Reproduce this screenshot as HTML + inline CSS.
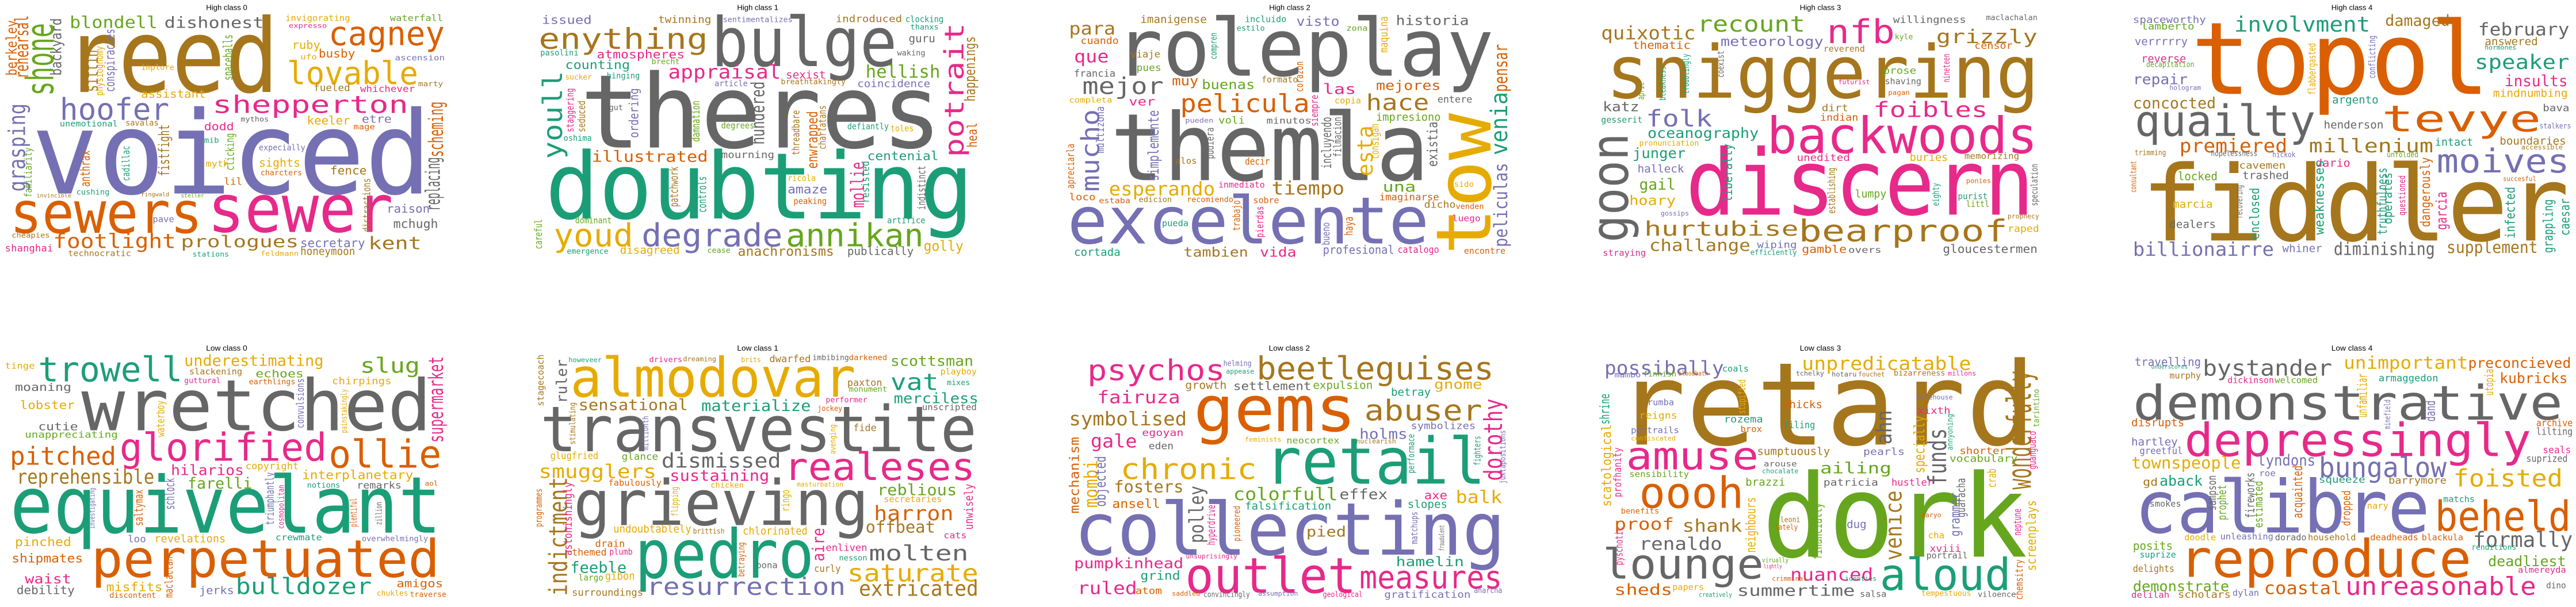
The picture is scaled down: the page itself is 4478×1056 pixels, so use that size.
<!DOCTYPE html>
<html><head><meta charset="utf-8">
<style>
html,body{margin:0;padding:0;background:#fff;}
#root{position:relative;width:4478px;height:1056px;overflow:hidden;background:#fff;}
svg.panel{position:absolute;overflow:hidden;}
svg text{font-family:"DejaVu Sans Mono","Liberation Mono",monospace;}
svg text.title{font-family:"Liberation Sans",sans-serif;fill:#000;}
</style></head>
<body>
<div id="root"></div>
<script>
const palette={t:"#1b9e77",o:"#d95f02",p:"#7570b3",k:"#e7298a",g:"#66a61e",y:"#e6ab02",b:"#a6761d",a:"#666666"};
const panelTitles=["High class 0","High class 1","High class 2","High class 3","High class 4","Low class 0","Low class 1","Low class 2","Low class 3","Low class 4"];
const panelOriginX=[0,896,1792,2688,3578,0,896,1792,2688,3578];
const titleCenterX=[683,730,780,826,885,683,730,779,826,885];
// word: [text, x, baseline y, length, size, color, vertical]
const wordsH0=[["reed",195,480,645,533,"b"],["voiced",95,1010,1205,600,"p"],["sewers",30,1215,580,300,"o"],["sewer",625,1210,560,345,"k"],["shone",160,500,380,115,"g",1],["cagney",990,235,350,173,"o"],["lovable",865,440,395,165,"y"],["shepperton",640,590,590,125,"k"],["hoofer",180,625,330,158,"p"],["blondell",210,145,265,86,"g"],["dishonest",495,145,300,80,"a"],["footlight",160,1295,370,105,"o"],["prologues",545,1290,355,85,"b"],["kent",1110,1300,160,92,"b"],["secretary",905,1290,195,65,"p"],["honeymoon",905,1330,165,55,"b"],["mchugh",1185,1190,135,65,"a"],["raison",1165,1110,130,60,"p"],["grasping",75,1000,460,70,"p",1],["replacing",1325,1100,280,60,"a",1],["scheming",1335,820,290,60,"o",1],["rehearsal",85,410,330,55,"o",1],["berkeley",50,395,290,45,"o",1],["backyard",185,395,300,45,"a",1],["sittin",295,480,220,55,"b",1],["physiognomy",310,500,260,30,"y",1],["conspiracies",345,480,330,40,"p",1],["spaceballs",700,420,240,38,"g",1],["assistant",425,510,195,58,"y"],["implore",425,365,100,40,"y"],["ruby",880,255,85,60,"y"],["busby",960,300,110,60,"o"],["ufo",905,310,50,40,"y"],["fueled",945,475,110,50,"b"],["whichever",1085,480,165,48,"k"],["keeler",925,650,130,60,"y"],["etre",1090,640,90,55,"p"],["mage",1065,675,65,40,"o"],["dodd",615,680,90,55,"k"],["unemotional",180,660,175,42,"t"],["savalas",378,655,100,42,"b"],["sights",780,870,125,60,"y"],["charcters",785,915,125,40,"o"],["fence",995,910,110,60,"b"],["lil",675,965,55,50,"o"],["expecially",780,785,140,42,"p"],["fistfight",510,920,270,45,"b",1],["clicking",705,890,195,35,"g",1],["anthrax",270,975,190,40,"o",1],["cadillac",390,945,185,30,"t",1],["familiarity",95,1030,260,30,"g",1],["distractions",1115,1210,280,30,"b",1],["invigorating",860,110,195,45,"y"],["waterfall",1175,110,160,45,"g"],["expresso",870,145,115,35,"k"],["ascension",1190,315,150,40,"p"],["marty",1260,450,75,38,"b"],["shanghai",15,1312,145,50,"k"],["technocratic",205,1337,190,42,"b"],["stations",580,1340,110,38,"t"],["feldmann",785,1335,115,35,"y"],["cheapies",35,1240,115,38,"b"],["pave",460,1160,65,45,"p"],["cushing",230,1015,100,40,"t"],["invincible",110,1030,105,30,"b"],["myth",620,870,70,45,"y"],["mib",615,745,45,40,"t"],["mythos",725,635,85,38,"a"],["ringwald",425,1025,85,30,"b"],["steller",545,1030,70,30,"g"]];
const wordsH1=[["theres",195,770,1090,533,"a"],["doubting",90,1140,1290,480,"t"],["bulge",590,345,560,355,"a"],["enything",70,255,510,150,"b"],["youd",115,1285,240,165,"y"],["degrade",380,1285,425,165,"p"],["annikan",815,1285,415,165,"g"],["potrait",1350,820,700,80,"k",1],["youll",140,830,460,80,"t",1],["happenings",1385,530,340,45,"b",1],["heal",1390,770,130,40,"o",1],["appraisal",460,410,340,100,"k"],["hellish",1055,405,225,90,"g"],["atmospheres",245,305,265,60,"k"],["counting",150,360,195,65,"t"],["illustrated",230,845,350,80,"o"],["centenial",1060,835,215,65,"t"],["mourning",620,825,160,50,"a"],["coincidence",1030,455,220,52,"p"],["breathtakingly",800,440,195,40,"b"],["sexist",815,410,120,55,"k"],["issued",80,125,150,60,"p"],["twinning",430,120,160,52,"b"],["sentimentalizes",625,115,210,40,"p"],["indroduced",965,115,200,50,"b"],["clocking",1175,115,115,45,"t"],["guru",1185,220,80,55,"a"],["thanxs",1190,155,85,40,"t"],["waking",1150,290,85,40,"a"],["pasolini",75,290,115,42,"t"],["brecht",410,335,85,40,"g"],["hinging",275,410,100,42,"t"],["sucker",150,415,80,40,"y"],["article",600,450,100,42,"p"],["hundered",750,755,330,55,"a",1],["ordering",370,720,260,38,"p",1],["staggering",175,690,230,30,"k",1],["seduced",210,690,165,30,"b",1],["damnation",555,740,215,32,"g",1],["enwrapped",910,880,300,45,"o",1],["threadbare",855,810,235,30,"b",1],["charlatans",935,780,230,30,"b",1],["mollie",1050,1085,240,55,"k",1],["resisted",1065,1060,220,30,"t",1],["indistinct",1235,1095,230,32,"a",1],["patchwork",490,1080,210,35,"b",1],["controls",575,1110,190,35,"t",1],["degrees",620,670,100,45,"g"],["defiantly",1000,675,125,45,"t"],["toles",1130,685,70,45,"y"],["oshima",145,735,85,42,"t"],["ricola",820,945,85,45,"y"],["amaze",820,1010,120,65,"p"],["peaking",838,1065,100,45,"o"],["dominant",180,1165,110,45,"g"],["artifice",1120,1165,115,45,"t"],["anachronisms",670,1335,290,68,"b"],["publically",1000,1330,200,58,"a"],["golly",1230,1310,120,75,"y"],["disagreed",315,1325,180,55,"y"],["emergence",155,1325,125,40,"t"],["cease",578,1320,70,40,"g"],["careful",80,1300,155,30,"g",1],["gut",282,575,42,40,"a"]];
const wordsH2=[["roleplay",255,395,1140,415,"a"],["themla",240,940,960,487,"a"],["excelente",110,1270,1090,340,"p"],["tow",1385,1330,740,230,"y",1],["pelicula",450,585,390,130,"o"],["mejor",155,490,245,120,"a"],["hace",1010,575,190,115,"b"],["mucho",205,1000,430,75,"p",1],["venia",1435,810,330,70,"t",1],["pensar",1435,480,250,55,"o",1],["peliculas",1435,1290,440,55,"p",1],["esta",1030,920,265,65,"y",1],["existia",1225,870,235,42,"a",1],["para",115,180,140,90,"b"],["que",130,325,105,90,"k"],["visto",800,135,130,70,"p"],["historia",1100,130,220,70,"a"],["las",880,490,100,75,"k"],["mejores",1040,470,195,70,"o"],["muy",425,445,80,70,"o"],["buenas",515,465,160,70,"g"],["esperando",235,1020,320,100,"y"],["tiempo",725,1015,220,95,"b"],["una",1060,1000,100,75,"g"],["imaginarse",1050,1045,180,50,"o"],["dicho",1185,1085,95,50,"b"],["venden",1280,1090,85,40,"o"],["cortada",130,1335,140,55,"t"],["tambien",460,1340,195,70,"b"],["vida",690,1340,110,70,"k"],["profesional",880,1325,215,60,"p"],["catalogo",1105,1320,125,50,"k"],["encontre",1305,1325,125,45,"o"],["impresiono",1040,630,195,55,"g"],["entere",1225,535,105,50,"a"],["copia",915,540,80,45,"y"],["francia",130,400,125,50,"a"],["cuando",150,230,115,50,"o"],["viaje",300,300,90,50,"b"],["pues",318,370,75,50,"g"],["completa",115,535,130,40,"y"],["ver",295,550,80,60,"k"],["minutos",710,645,135,45,"a"],["voli",565,645,80,50,"g"],["pueden",465,640,85,35,"p"],["decir",645,860,75,50,"o"],["alos",435,855,65,45,"b"],["imanigense",330,120,200,55,"b"],["incluido",645,115,125,45,"t"],["estilo",620,160,85,40,"t"],["zona",950,160,65,40,"g"],["formato",695,430,110,45,"b"],["inmediato",565,980,140,45,"k"],["sobre",670,1060,78,45,"o"],["recomiendo",470,1055,140,40,"o"],["estaba",205,1060,95,40,"o"],["edicion",325,1055,100,40,"b"],["loco",115,1045,80,50,"o"],["pueda",395,1180,80,45,"t"],["luego",1270,1155,85,45,"k"],["sido",1275,975,60,40,"y"],["simplemente",385,945,370,45,"p",1],["incluyendo",905,880,270,40,"a",1],["filmacion",935,820,210,32,"a",1],["corazon",820,480,160,30,"o",1],["maquina",1075,275,190,32,"y",1],["trabajo",630,1205,160,30,"o",1],["pierdas",700,1240,165,30,"k",1],["bueno",900,1280,120,30,"p",1],["haya",970,1230,100,35,"o",1],["multizona",220,800,245,32,"p",1],["apreciarla",130,985,235,30,"o",1],["consigan",1048,830,185,32,"y",1],["pudiera",550,830,165,30,"a",1],["siempre",865,660,165,30,"k",1],["compren",560,310,140,28,"t",1]];
const wordsH3=[["sniggering",180,510,1305,380,"b"],["discern",420,1120,1050,475,"k"],["backwoods",665,800,815,263,"k"],["goon",245,1265,570,155,"a",1],["bearproof",760,1260,630,158,"b"],["hurtubise",295,1230,465,105,"b"],["challange",310,1310,305,85,"b"],["folk",300,660,200,120,"p"],["foibles",985,610,345,110,"k"],["nfb",845,225,205,171,"k"],["recount",455,165,325,115,"g"],["quixotic",165,205,285,95,"b"],["grizzly",1175,225,305,100,"b"],["meteorology",525,240,310,70,"p"],["thematic",260,255,175,55,"o"],["oceanography",305,720,335,75,"t"],["junger",260,825,160,75,"t"],["halleck",275,900,140,55,"p"],["gail",280,990,110,80,"g"],["hoary",250,1070,140,70,"y"],["katz",170,580,110,70,"a"],["unedited",755,840,160,50,"k"],["buries",1095,840,115,55,"y"],["memorizing",1260,830,165,45,"b"],["gloucestermen",1195,1320,285,60,"a"],["overs",910,1320,100,45,"a"],["gamble",770,1320,135,55,"o"],["wiping",635,1295,120,50,"p"],["efficiently",615,1330,140,40,"t"],["straying",170,1335,130,45,"k"],["willingness",1045,120,220,50,"a"],["maclachalan",1325,105,155,40,"a"],["censor",1290,255,115,50,"o"],["reverend",835,270,125,45,"b"],["kyle",1050,205,55,40,"g"],["prose",1015,385,100,50,"g"],["shaving",1020,440,110,45,"a"],["futurist",880,440,95,35,"k"],["pagan",1030,495,65,35,"o"],["indian",825,630,115,50,"o"],["dirt",830,580,80,50,"b"],["lumpy",930,1030,95,55,"g"],["purist",1240,1040,90,45,"t"],["littl",1265,1080,70,45,"g"],["prophecy",1390,1140,95,35,"b"],["raped",1390,1210,95,50,"y"],["ponies",1265,955,75,35,"o"],["gesserit",165,640,125,45,"t"],["pronunciation",280,760,180,40,"y"],["gossips",345,1125,85,35,"p"],["liberally",560,1055,305,40,"t",1],["establishing",870,1115,240,30,"b",1],["bleakness",360,525,180,28,"t",1],["troublingly",430,490,210,28,"t",1],["coexist",535,405,140,28,"a",1],["speculation",1480,1075,220,28,"a",1],["nineteen",1215,430,150,28,"k",1],["april",295,520,90,28,"g",1],["eighty",1183,1075,120,28,"t",1]];
const wordsH4=[["topol",400,490,900,525,"o"],["fiddler",250,1255,1290,545,"b"],["quailty",230,710,545,225,"a"],["tevye",975,685,480,190,"o"],["moives",1140,900,400,170,"p"],["billionairre",225,1335,425,100,"p"],["diminishing",830,1330,305,90,"a"],["supplement",1170,1320,275,85,"b"],["millenium",755,795,375,100,"b"],["premiered",365,795,325,100,"o"],["involvment",530,165,410,110,"t"],["speaker",1255,360,285,105,"t"],["february",1265,185,275,90,"a"],["damaged",985,135,195,80,"b"],["concocted",225,565,250,80,"b"],["repair",225,440,165,75,"p"],["insults",1345,450,190,80,"k"],["mindnumbing",1310,505,225,55,"y"],["boundaries",1330,755,200,55,"b"],["accessible",1395,780,125,35,"b"],["intact",1135,760,115,55,"t"],["henderson",800,670,180,55,"a"],["argento",825,540,140,55,"t"],["cavemen",545,880,140,50,"b"],["trashed",555,935,140,55,"a"],["locked",360,940,120,60,"g"],["dario",775,870,105,55,"k"],["dealers",335,1190,140,55,"a"],["marcia",345,1085,120,55,"y"],["whiner",675,1315,120,55,"p"],["spaceworthy",225,120,220,50,"p"],["lamberto",250,155,160,50,"g"],["verrrrry",230,235,160,55,"p"],["reverse",250,325,135,55,"k"],["decapitation",265,350,145,40,"g"],["hologram",335,470,95,35,"p"],["answered",1285,235,160,55,"b"],["hormones",1285,260,95,35,"t"],["bava",1460,580,80,50,"a"],["stalkers",1450,670,95,40,"p"],["hopelessness",460,815,140,40,"a"],["hickok",645,820,70,40,"p"],["trimming",230,810,95,40,"b"],["unfolded",990,820,95,40,"g"],["succesful",1340,945,100,35,"o"],["weaknesses",800,1225,390,40,"t",1],["truthfulness",990,1225,350,40,"t",1],["dangerously",1120,1185,365,40,"o",1],["garcia",1170,1200,200,45,"k",1],["infected",1375,1245,270,40,"t",1],["grappling",1490,1320,280,40,"t",1],["caesar",1540,1230,195,40,"t",1],["enclosed",605,1250,270,38,"t",1],["operates",1005,1170,270,38,"t",1],["flabbergasted",775,495,270,30,"y",1],["conflicting",955,410,225,28,"p",1],["questioned",1045,1125,210,28,"k",1],["recovering",555,1140,175,28,"a",1],["consultant",235,1005,165,24,"o",1]];
const wordsL0=[["wretched",245,625,1055,370,"a"],["equivelant",30,1160,1300,410,"t"],["perpetuated",275,1390,1050,270,"o"],["glorified",360,785,625,200,"k"],["ollie",990,820,340,200,"o"],["trowell",115,370,435,178,"t"],["pitched",30,805,320,131,"o"],["reprehensible",50,905,415,105,"b"],["bulldozer",710,1480,410,118,"t"],["slug",1085,325,180,110,"g"],["underestimating",555,290,420,80,"y"],["hilarios",515,860,220,75,"k"],["farelli",565,930,195,80,"g"],["interplanetary",910,880,335,65,"y"],["supermarket",1335,690,450,60,"k",1],["pinched",45,1230,170,65,"y"],["shipmates",35,1315,215,65,"o"],["waist",75,1425,140,70,"k"],["debility",50,1480,175,60,"a"],["misfits",320,1465,170,65,"y"],["discontent",330,1500,140,40,"o"],["amigos",1195,1445,140,55,"o"],["chukles",1135,1490,95,40,"y"],["traverse",1235,1495,110,40,"o"],["jerks",600,1480,105,55,"p"],["revelations",465,1210,215,55,"y"],["loo",385,1210,55,50,"p"],["crewmate",830,1200,140,45,"t"],["overwhelmingly",1090,1205,200,40,"p"],["remarks",1075,930,135,50,"a"],["notions",925,925,100,40,"t"],["moaning",45,420,170,55,"a"],["lobster",60,515,165,60,"y"],["cutie",115,625,120,55,"a"],["unappreciating",75,665,280,48,"g"],["echoes",770,350,145,55,"g"],["slackening",570,335,160,45,"b"],["chirpings",1000,385,180,50,"y"],["guttural",555,380,110,40,"k"],["earthlings",750,385,140,40,"o"],["tinge",15,305,90,45,"y"],["copyright",740,830,160,50,"y"],["aol",1280,915,40,35,"o"],["schlock",525,1040,165,40,"p",1],["saltymax",430,1125,190,35,"o",1],["triumphantly",825,1120,275,35,"p",1],["cosmopolitan",855,1140,230,25,"k",1],["convulsions",915,615,260,30,"p",1],["waterboy",495,660,190,32,"y",1],["maclaclan",520,1500,215,32,"o",1],["zillion",1150,1120,120,25,"a",1],["plentiful",1075,1130,150,28,"o",1],["investigating",285,1140,215,22,"p",1],["painstakingly",1045,640,230,25,"y",1]];
const wordsL1=[["transvestite",75,735,1315,330,"a"],["grieving",175,1120,890,327,"a"],["almodovar",165,450,860,283,"y"],["pedro",360,1395,540,350,"t"],["realeses",810,885,575,197,"k"],["resurrection",395,1485,600,125,"p"],["saturate",1000,1415,395,125,"y"],["extricated",1035,1490,360,110,"b"],["molten",1065,1305,300,110,"a"],["dismissed",440,820,360,105,"a"],["smugglers",70,875,355,100,"y"],["sustaining",465,890,300,80,"k"],["sensational",190,520,330,80,"b"],["materialize",560,525,330,80,"t"],["vat",1130,415,145,120,"t"],["merciless",1140,485,255,75,"t"],["scottsman",1130,290,250,75,"g"],["harron",1080,1095,240,105,"o"],["offbeat",1055,1160,210,85,"b"],["reblious",1090,965,240,80,"g"],["secretaries",1110,1000,175,45,"y"],["indictment",155,1490,620,75,"b",1],["ruler",155,485,230,45,"a",1],["stagecoach",85,500,270,28,"b",1],["astonishingly",170,1280,385,35,"k",1],["feeble",165,1370,170,80,"t"],["surroundings",170,1490,215,50,"b"],["gibon",270,1405,90,55,"y"],["largo",190,1410,75,45,"g"],["chlorinated",685,1170,195,55,"y"],["undoubtablely",295,1160,235,55,"y"],["brittish",535,1165,95,40,"b"],["drain",240,1235,90,50,"o"],["themed",170,1280,105,50,"o"],["plumb",283,1275,70,45,"k"],["enliven",935,1255,125,50,"k"],["nesson",975,1305,85,40,"t"],["curly",900,1365,80,50,"b"],["bona",725,1345,65,45,"a"],["glance",320,780,110,50,"g"],["glugfried",105,775,145,50,"y"],["fabulously",280,915,160,45,"o"],["chicken",588,925,100,40,"y"],["masturbation",848,920,140,35,"y"],["paxton",1000,395,105,50,"b"],["monument",1005,425,115,40,"g"],["performer",935,480,125,40,"k"],["jockey",910,525,75,40,"o"],["playboy",1280,335,110,45,"y"],["mixes",1300,390,70,40,"t"],["unscripted",1225,520,165,45,"a"],["dwarfed",765,270,125,50,"b"],["drivers",403,270,100,40,"k"],["dreaming",505,265,100,35,"b"],["howeveer",160,270,100,35,"t"],["brits",680,270,60,38,"y"],["imbibing",895,260,110,40,"a"],["darkened",1005,260,115,40,"o"],["aire",930,1310,175,50,"k",1],["ringo",825,1050,115,32,"y",1],["betraying",690,1390,180,28,"o",1],["programmes",80,1130,200,28,"o",1],["unwisely",1378,1145,240,35,"k",1],["flipping",490,1075,155,28,"y",1],["avenging",965,750,155,25,"y",1],["millionth",400,730,180,25,"p",1],["stimulating",180,700,220,25,"b",1],["cats",1290,1190,70,45,"k"],["fide",1018,630,70,50,"b"]];
const wordsL2=[["collecting",130,1275,1300,380,"p"],["gems",490,630,490,330,"o"],["retail",705,905,665,335,"t"],["outlet",465,1475,515,257,"k"],["beetleguises",680,360,715,165,"b"],["psychos",170,365,415,150,"k"],["chronic",270,880,410,150,"y"],["abuser",1005,575,355,150,"b"],["measures",990,1450,430,165,"k"],["symbolised",115,600,355,100,"b"],["fairuza",200,485,250,90,"k"],["gale",180,715,140,95,"k"],["fosters",250,950,210,85,"b"],["dorothy",1420,890,430,75,"k",1],["mombi",200,1030,250,55,"y",1],["objected",225,1025,265,45,"p",1],["mechanism",145,1060,400,40,"o",1],["polley",520,1215,300,60,"a",1],["colorfull",610,990,315,90,"g"],["effex",930,985,145,75,"a"],["falsification",645,1040,260,55,"t"],["slopes",1135,1030,120,55,"t"],["axe",1185,985,70,60,"k"],["balk",1280,1005,140,90,"y"],["pumpkinhead",130,1345,330,75,"k"],["ruled",140,1480,180,90,"k"],["grind",330,1405,120,65,"t"],["atom",315,1480,80,50,"o"],["ansell",245,1030,145,65,"o"],["hamelin",1100,1335,205,70,"t"],["pied",830,1180,120,75,"b"],["gratification",1065,1500,260,50,"p"],["anarcha",1335,1475,85,40,"p"],["settlement",610,415,235,60,"a"],["expulsion",850,410,180,55,"g"],["growth",465,410,125,55,"b"],["helming",580,290,85,40,"p"],["appease",588,330,85,35,"t"],["holms",990,670,145,75,"p"],["symbolizes",1145,620,195,50,"p"],["betray",1085,445,120,55,"t"],["gnome",1215,410,145,70,"y"],["egoyan",335,655,125,50,"k"],["eden",355,725,75,50,"a"],["neocortex",770,695,160,45,"g"],["feminists",645,685,110,35,"y"],["nuclearish",980,695,120,35,"b"],["saddled",425,1490,85,35,"o"],["convincingly",520,1495,140,40,"a"],["assumption",685,1490,120,35,"p"],["geological",880,1495,120,40,"k"],["unsuprisingly",467,1295,155,35,"k"],["fighters",1355,810,155,28,"t",1],["juxtapositions",1430,905,280,25,"p",1],["hyperdrive",555,1225,210,32,"k",1],["pioneered",630,1205,185,28,"o",1],["matchups",1165,1220,170,28,"p",1],["performace",1155,850,205,28,"t",1],["fraudulent",1245,1255,135,22,"a",1]];
const wordsL3=[["retard",210,700,1265,600,"b"],["dork",650,1285,800,600,"g"],["lounge",170,1400,485,217,"a"],["aloud",1005,1460,395,230,"t"],["amuse",240,830,400,200,"k"],["oooh",280,1030,315,225,"o"],["proof",205,1145,180,85,"o"],["shank",410,1155,180,90,"b"],["renaldo",280,1250,250,90,"a"],["sheds",205,1485,175,80,"o"],["summertime",575,1490,355,80,"a"],["nuanced",735,1410,250,90,"k"],["possibally",175,335,360,100,"p"],["unpredicatable",770,310,510,95,"y"],["wonderfully",1460,935,620,100,"b",1],["funds",1205,915,300,75,"a",1],["venice",1070,1305,365,70,"b",1],["ahn",1040,700,180,65,"a",1],["specially",1140,850,300,45,"y",1],["ailing",825,850,215,80,"g"],["patricia",835,915,165,50,"a"],["hustler",1040,915,125,50,"k"],["brazzi",600,915,120,55,"g"],["arouse",655,815,100,40,"a"],["sumptuously",635,755,220,55,"b"],["pearls",955,755,125,50,"p"],["shorter",1245,750,140,50,"o"],["vocabulary",1215,790,205,50,"g"],["chocalate",650,850,110,35,"t"],["chicks",712,510,120,55,"o"],["filing",715,615,95,50,"t"],["rozema",535,585,118,50,"t"],["brox",585,635,65,45,"o"],["rumba",305,495,80,45,"p"],["reigns",280,565,115,50,"y"],["portrails",255,640,145,45,"p"],["confiscated",255,680,135,35,"y"],["sensibility",250,870,180,45,"g"],["benefits",225,1060,115,40,"o"],["mambo",205,350,80,40,"p"],["finnish",292,345,100,40,"g"],["bloodbath",398,340,90,35,"o"],["coals",530,320,80,45,"t"],["tchelky",752,340,85,35,"a"],["hotaru",860,345,75,35,"a"],["fouchet",940,345,80,35,"b"],["bizarreness",1047,340,155,40,"b"],["millons",1210,340,85,35,"k"],["xixth",1118,540,100,50,"k"],["warehouse",1115,465,110,35,"p"],["dug",905,1135,60,55,"p"],["leoni",705,1105,60,40,"b"],["lately",688,1145,70,40,"o"],["xviii",1155,1260,95,50,"k"],["portrail",1145,1295,125,45,"a"],["karyo",1130,1080,60,35,"o"],["cha",1150,1190,50,45,"y"],["tempestuous",1130,1490,150,40,"y"],["viloence",1300,1495,115,40,"a"],["salsa",945,1495,80,45,"a"],["papers",380,1460,95,45,"y"],["creatively",460,1495,100,35,"t"],["crimminal",680,1412,105,35,"o"],["identies",900,1412,95,35,"t"],["virually",650,1315,80,35,"g"],["lightly",655,1345,55,30,"k"],["scatological",195,1025,430,40,"y",1],["shrine",190,595,160,40,"t",1],["neighbours",630,1265,290,40,"y",1],["financially",830,1300,295,40,"g",1],["grammar",1245,1180,230,40,"p",1],["guaracha",1262,1080,205,35,"a",1],["screenplays",1475,1360,370,40,"y",1],["chemsitry",1435,1510,210,30,"o",1],["pyschotic",230,1330,200,30,"k",1],["profhanity",225,975,260,30,"k",1],["stupified",600,540,180,30,"y",1],["guanguaco",1475,830,200,30,"k",1],["tarintino",1485,610,200,25,"g",1],["crab",1355,925,100,35,"y",1],["neptune",1430,1175,140,30,"k",1],["annyoning",1225,730,190,25,"t",1]];
const wordsL4=[["demonstrative",225,570,1295,250,"a"],["depressingly",380,760,1045,237,"k"],["calibre",230,1160,890,380,"p"],["reproduce",365,1390,880,270,"o"],["unreasonable",865,1485,575,132,"k"],["bungalow",785,870,385,145,"p"],["beheld",1135,1150,410,217,"o"],["foisted",1190,920,330,125,"y"],["formally",1250,1235,300,110,"a"],["townspeople",220,825,330,85,"y"],["lyndons",600,810,175,80,"p"],["bystander",435,340,390,115,"a"],["unimportant",860,305,375,90,"y"],["preconcieved",1235,300,310,75,"o"],["kubricks",1330,380,205,75,"o"],["travelling",230,290,200,60,"p"],["coastal",620,1480,235,90,"o"],["demonstrate",225,1465,290,75,"g"],["scholars",360,1500,160,50,"b"],["delilah",220,1500,115,45,"k"],["dylan",525,1490,80,45,"p"],["aback",305,915,130,75,"t"],["gd",255,915,45,55,"b"],["hartley",220,705,140,55,"p"],["greetful",245,750,130,50,"p"],["disrupts",220,605,160,55,"o"],["smokes",275,1025,95,45,"a"],["posits",225,1250,120,60,"g"],["suprize",245,1290,110,45,"t"],["delights",225,1365,125,50,"b"],["deadliest",1295,1335,235,75,"g"],["almereyda",1385,1370,145,45,"k"],["renditions",1245,1250,135,40,"t"],["dino",1470,1450,60,45,"a"],["archive",1440,605,110,50,"o"],["lilting",1440,650,110,50,"a"],["seals",1460,745,85,50,"k"],["suprized",1410,790,125,50,"a"],["squeeze",785,900,140,50,"t"],["barrymore",995,905,175,50,"b"],["matchs",1160,1000,95,45,"t"],["nary",930,1035,65,45,"y"],["doodle",380,1200,95,45,"y"],["unleashing",488,1195,160,45,"p"],["dorado",653,1200,95,45,"a"],["household",752,1200,145,45,"b"],["deadheads",940,1200,145,45,"o"],["blackula",1095,1200,125,45,"o"],["dickinson",510,380,140,45,"k"],["welcomed",652,380,130,45,"g"],["murphy",335,355,95,45,"b"],["armaggedon",965,370,180,50,"t"],["underscores",280,305,110,30,"t"],["unfamiliar",930,560,230,40,"y",1],["acquainted",735,1085,275,40,"o",1],["estimated",615,1135,245,35,"g",1],["fireworks",590,1085,240,35,"a",1],["prophet",505,1095,185,35,"g",1],["sampson",475,1045,185,35,"a",1],["dropped",880,1125,185,35,"o",1],["dand",1135,580,110,40,"p",1],["utopia",1310,445,140,35,"y",1],["minefield",1000,620,155,25,"p",1],["roe",605,865,50,45,"p"]];
const allWords=[wordsH0,wordsH1,wordsH2,wordsH3,wordsH4,wordsL0,wordsL1,wordsL2,wordsL3,wordsL4];

const NS="http://www.w3.org/2000/svg";
const root=document.getElementById('root');
allWords.forEach(function(words,i){
  const bottom=i>=5;
  const svg=document.createElementNS(NS,'svg');
  svg.setAttribute('class','panel');
  
  
  const vh=bottom?1548:1380;
  svg.setAttribute('viewBox','0 0 1560 '+vh);
  svg.setAttribute('preserveAspectRatio','none');
  svg.setAttribute('width','900');
  svg.setAttribute('height',bottom?'516':'460');
  svg.style.left=panelOriginX[i]+'px';
  svg.style.top=(bottom?540:0)+'px';
  const tt=document.createElementNS(NS,'text');
  
  
  tt.setAttribute('class','title');
  tt.setAttribute('x',titleCenterX[i]-62);
  tt.setAttribute('y',bottom?210:52);
  tt.setAttribute('font-size','38');
  tt.setAttribute('textLength','124');
  tt.setAttribute('lengthAdjust','spacingAndGlyphs');
  tt.textContent=panelTitles[i];
  svg.appendChild(tt);
  words.forEach(function(w){
    const t=document.createElementNS(NS,'text');
    
    
    t.setAttribute('x',w[1]);
    t.setAttribute('y',w[2]);
    t.setAttribute('font-size',w[4]);
    t.setAttribute('textLength',w[3]);
    t.setAttribute('lengthAdjust','spacingAndGlyphs');
    t.setAttribute('fill',palette[w[5]]);
    if(w[6]){t.setAttribute('transform','rotate(-90 '+w[1]+' '+w[2]+')');}
    t.textContent=w[0];
    svg.appendChild(t);
  });
  root.appendChild(svg);
});
</script>
</body></html>
